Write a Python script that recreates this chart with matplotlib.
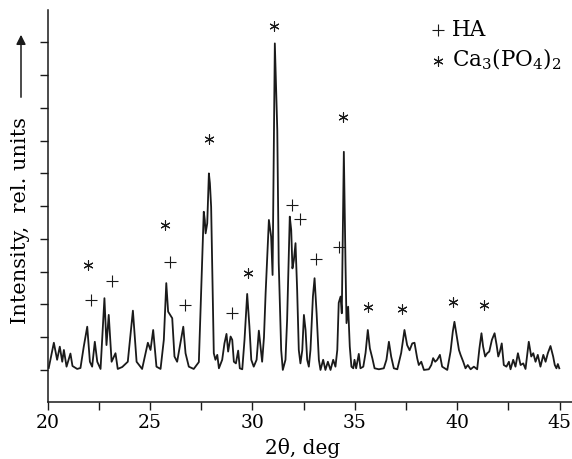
import matplotlib
matplotlib.use("Agg")
import matplotlib.pyplot as plt
from matplotlib.ticker import MultipleLocator

# XRD pattern (2theta, deg / intensity, rel. units)
two_theta = [20.06, 20.31, 20.47, 20.60, 20.72, 20.80, 20.93, 21.12, 21.22, 21.45,
             21.61, 21.77, 21.94, 22.07, 22.18, 22.31, 22.43, 22.59, 22.78, 22.88,
             22.99, 23.13, 23.32, 23.43, 23.65, 23.92, 24.17, 24.35, 24.62, 24.90,
             25.03, 25.16, 25.32, 25.52, 25.68, 25.80, 25.89, 26.09, 26.20, 26.33,
             26.63, 26.74, 26.90, 27.14, 27.39, 27.63, 27.68, 27.72, 27.80, 27.88,
             27.93, 27.99, 28.12, 28.20, 28.29, 28.37, 28.53, 28.64, 28.74, 28.82,
             28.94, 29.02, 29.10, 29.20, 29.31, 29.39, 29.51, 29.62, 29.75, 29.86,
             29.95, 30.07, 30.21, 30.32, 30.48, 30.57, 30.65, 30.81, 30.92, 30.99,
             31.10, 31.22, 31.29, 31.41, 31.49, 31.62, 31.70, 31.83, 31.90, 31.96,
             32.03, 32.11, 32.19, 32.27, 32.35, 32.44, 32.52, 32.60, 32.68, 32.76,
             32.84, 32.96, 33.04, 33.14, 33.25, 33.33, 33.46, 33.57, 33.69, 33.82,
             33.95, 34.06, 34.15, 34.22, 34.31, 34.37, 34.47, 34.55, 34.60, 34.68,
             34.76, 34.84, 34.93, 34.99, 35.07, 35.20, 35.28, 35.42, 35.53, 35.64,
             35.74, 35.86, 35.97, 36.18, 36.42, 36.55, 36.67, 36.78, 36.91, 37.08,
             37.27, 37.43, 37.56, 37.68, 37.81, 37.92, 38.05, 38.13, 38.25, 38.38,
             38.62, 38.74, 38.83, 38.93, 39.03, 39.16, 39.27, 39.52, 39.68, 39.79,
             39.87, 39.96, 40.09, 40.17, 40.30, 40.41, 40.52, 40.66, 40.82, 40.98,
             41.09, 41.19, 41.27, 41.37, 41.47, 41.57, 41.70, 41.83, 41.93, 42.01,
             42.09, 42.18, 42.28, 42.41, 42.53, 42.61, 42.74, 42.85, 42.97, 43.10,
             43.23, 43.34, 43.50, 43.62, 43.72, 43.83, 43.94, 44.07, 44.21, 44.32,
             44.43, 44.56, 44.69, 44.77, 44.85, 44.92, 44.99]
intensity = [0.06, 0.83, 0.31, 0.71, 0.25, 0.61, 0.10, 0.50, 0.12, 0.03,
             0.06, 0.71, 1.32, 0.25, 0.10, 0.86, 0.25, 0.03, 2.19, 0.76,
             1.68, 0.25, 0.51, 0.03, 0.09, 0.25, 1.81, 0.25, 0.03, 0.83,
             0.61, 1.22, 0.10, 0.03, 0.92, 2.65, 1.78, 1.58, 0.41, 0.25,
             1.32, 0.51, 0.10, 0.03, 0.24, 4.83, 4.58, 4.17, 4.48, 6.00,
             5.70, 4.98, 0.51, 0.31, 0.46, 0.05, 0.31, 0.81, 1.10, 0.56,
             1.02, 0.92, 0.25, 0.20, 0.59, 0.05, 0.02, 0.92, 2.32, 1.32,
             0.31, 0.10, 0.31, 1.20, 0.25, 1.00, 2.34, 4.58, 4.07, 2.90,
             9.97, 7.32, 3.27, 0.61, 0.00, 0.31, 1.53, 4.68, 4.27, 3.10,
             3.36, 3.87, 2.44, 0.61, 0.20, 0.60, 1.68, 1.22, 0.31, 0.10,
             0.61, 2.24, 2.80, 1.73, 0.31, 0.00, 0.31, 0.00, 0.25, 0.00,
             0.31, 0.10, 0.61, 2.05, 2.24, 1.73, 6.66, 3.26, 1.43, 1.93,
             0.71, 0.10, 0.05, 0.31, 0.05, 0.49, 0.05, 0.10, 0.52, 1.22,
             0.66, 0.36, 0.05, 0.02, 0.05, 0.31, 0.86, 0.41, 0.05, 0.02,
             0.52, 1.22, 0.76, 0.60, 0.81, 0.83, 0.36, 0.15, 0.25, 0.00,
             0.02, 0.15, 0.36, 0.25, 0.31, 0.46, 0.10, 0.00, 0.56, 1.17,
             1.47, 1.12, 0.61, 0.46, 0.25, 0.05, 0.15, 0.02, 0.10, 0.02,
             0.66, 1.12, 0.71, 0.41, 0.51, 0.56, 0.92, 1.12, 0.76, 0.41,
             0.56, 0.81, 0.15, 0.10, 0.25, 0.02, 0.31, 0.10, 0.51, 0.15,
             0.20, 0.03, 0.86, 0.41, 0.51, 0.25, 0.46, 0.10, 0.46, 0.25,
             0.51, 0.73, 0.41, 0.15, 0.05, 0.18, 0.05]

# peak marks: + HA, * Ca3(PO4)2
ha_x = [22.10, 23.13, 26.00, 26.69, 29.03, 31.96, 32.35, 33.13, 34.21]
ha_y = [2.14, 2.72, 3.30, 1.98, 1.74, 5.04, 4.61, 3.39, 3.75]
tcp_x = [22.00, 25.76, 27.91, 29.77, 31.08, 34.45, 35.67, 37.33, 39.82, 41.29]
tcp_y = [3.20, 4.42, 7.05, 2.96, 10.50, 7.72, 1.92, 1.86, 2.08, 1.98]

plt.rcParams['font.family'] = ['DejaVu Serif']
plt.rcParams['mathtext.fontset'] = 'dejavuserif'

fig = plt.figure(figsize=(5.72, 4.59), dpi=100)
ax = fig.add_axes([47.5 / 572, 1 - 401.7 / 459, 1 - 47.5 / 572, 391.7 / 459])

ink = '#1a1a1a'
ax.plot(two_theta, intensity, color=ink, lw=1.3)
ax.scatter(ha_x, ha_y, marker='+', s=75, color=ink, linewidths=0.8, label='HA')
ax.scatter(tcp_x, tcp_y, marker=(6, 2, 0), s=45, color=ink, linewidths=0.8,
           label='Ca$_3$(PO$_4$)$_2$')

ax.set_xlim(20, 20 + (572 - 47.5) / 20.48)
ax.set_ylim(-0.97, 10.99)
ax.xaxis.set_major_locator(MultipleLocator(5))
ax.xaxis.set_minor_locator(MultipleLocator(2.5))
ax.set_yticks(range(0, 11))
ax.set_yticklabels([])
ax.tick_params(which='both', direction='out', length=6, width=1, color=ink,
               labelsize=13.5, pad=3)
for s in ['top', 'right']:
    ax.spines[s].set_visible(False)
for s in ['left', 'bottom']:
    ax.spines[s].set_linewidth(1.1)
    ax.spines[s].set_color(ink)

leg = ax.legend(loc='upper left', bbox_to_anchor=(0.73, 0.978), frameon=False,
                fontsize=15.5, handlelength=0.7, handletextpad=0.3,
                labelspacing=0.3, borderpad=0, borderaxespad=0)

fig.text(303 / 572, 1 - 448 / 459, '2θ, deg', ha='center', va='center', fontsize=14.5)
fig.text(21 / 572, 1 - 220 / 459, 'Intensity,  rel. units', rotation=90,
         ha='center', va='center', fontsize=15)
fig.add_artist(plt.Annotation('', xy=(21 / 572, 1 - 32 / 459), xytext=(21 / 572, 1 - 100 / 459),
                              xycoords='figure fraction',
                              arrowprops=dict(arrowstyle='-|>', color=ink, lw=1.1,
                                              mutation_scale=14)))

fig.savefig('out.png', dpi=100)
